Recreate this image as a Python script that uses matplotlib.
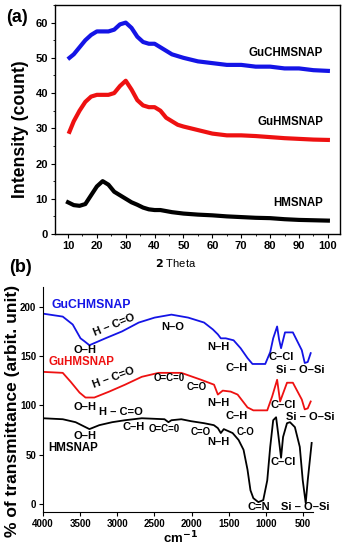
import matplotlib
matplotlib.use("Agg")
import matplotlib.pyplot as plt
from matplotlib.ticker import MultipleLocator

plt.rcParams['font.family'] = ['Liberation Sans', 'DejaVu Sans']

# ---------------- (a) XRD data ----------------
tt_black = [10, 12, 14, 16, 18, 20, 22, 24, 26, 28, 30, 32, 34, 36, 38, 40, 42, 44, 46, 48,
            50, 55, 60, 65, 70, 75, 80, 85, 90, 95, 100]
int_hmsnap = [9, 8.2, 8, 8.5, 11, 13.5, 15, 14, 12, 11, 10, 9, 8.3, 7.5, 7, 6.8, 6.8, 6.5, 6.2, 6,
              5.8, 5.5, 5.3, 5, 4.8, 4.6, 4.5, 4.2, 4, 3.9, 3.8]
tt_red = [10.5, 12, 14, 16, 18, 20, 22, 24, 26, 28, 30, 32, 34, 36, 38, 40, 42, 44, 46, 48,
          50, 55, 60, 65, 70, 75, 80, 85, 90, 95, 100]
int_guhmsnap = [29, 32, 35, 37.5, 39, 39.5, 39.5, 39.5, 40, 42, 43.5, 41, 38, 36.5, 36, 36, 35, 33, 32, 31,
                30.5, 29.5, 28.5, 28, 28, 27.8, 27.5, 27.2, 27, 26.8, 26.7]
tt_blue = [10.5, 12, 14, 16, 18, 20, 22, 24, 26, 28, 30, 32, 34, 36, 38, 40, 42, 44, 46, 48,
           50, 55, 60, 65, 70, 75, 80, 85, 90, 95, 100]
int_guchmsnap = [50, 51, 53, 55, 56.5, 57.5, 57.5, 57.5, 58, 59.5, 60, 58.5, 56, 54.5, 54, 54, 53, 52, 51, 50.5,
                 50, 49, 48.5, 48, 48, 47.5, 47.5, 47, 47, 46.5, 46.3]
xrd_xticks = [10, 20, 30, 40, 50, 60, 70, 80, 90, 100]
xrd_yticks = [0, 10, 20, 30, 40, 50, 60]

# ---------------- (b) FTIR data ----------------
wn_blue = [4000, 3734, 3600, 3495, 3442, 3375, 3160, 2936, 2710, 2497, 2271, 2046, 1832, 1713, 1646,
           1606, 1540, 1434, 1340, 1247, 1180, 1008, 941, 901, 848, 822, 795, 742, 636, 516, 476, 436, 396]
tr_guchmsnap = [193, 190, 182, 168, 165, 161, 168, 175, 184, 189, 192, 189, 184, 177, 172,
                168, 168, 166, 158, 148, 142, 142, 154, 168, 180, 167, 158, 174, 174, 156, 143, 144, 153]
wn_red = [4000, 3734, 3628, 3508, 3428, 3309, 3109, 2896, 2670, 2444, 2138, 1872, 1697, 1646, 1580,
          1473, 1380, 1247, 1168, 981, 915, 848, 808, 715, 636, 516, 476, 436, 396]
tr_guhmsnap = [134, 133, 124, 113, 108, 108, 114, 121, 129, 133, 133, 126, 121, 111, 115,
               114, 111, 98, 95, 95, 109, 126, 104, 123, 123, 106, 96, 97, 104]
wn_black = [4000, 3734, 3561, 3375, 3242, 3069, 2896, 2670, 2364, 2311, 2271, 2138, 2005, 1832, 1700,
            1646, 1606, 1566, 1447, 1367, 1300, 1247, 1207, 1168, 1101, 1035, 981, 941, 901, 862,
            835, 795, 768, 715, 675, 609, 543, 503, 463, 436, 383]
tr_hmsnap = [87, 86, 83, 76, 80, 83, 85, 87, 86, 83, 85, 86, 84, 82, 80,
             77, 72, 76, 72, 65, 55, 35, 14, 6, 2, 4, 24, 58, 85, 88,
             72, 47, 68, 82, 83, 78, 58, 24, 1, 24, 62]
ftir_xticks = [4000, 3500, 3000, 2500, 2000, 1500, 1000, 500]
ftir_yticks = [0, 50, 100, 150, 200]

BLUE = '#1414e6'
RED = '#ee1111'

W, H = 344, 550
fig = plt.figure(figsize=(W / 100, H / 100), dpi=100)


def ftxt(x, y, s, **kw):
    kw.setdefault('ha', 'center')
    kw.setdefault('va', 'center')
    fig.text(x / W, 1 - y / H, s, **kw)


# ---------------- panel (a) ----------------
axa = fig.add_axes([55 / W, 1 - 234 / H, 285 / W, 229 / H])
axa.plot(tt_blue, int_guchmsnap, color=BLUE, lw=3.0, solid_joinstyle='round')
axa.plot(tt_red, int_guhmsnap, color=RED, lw=3.0, solid_joinstyle='round')
axa.plot(tt_black, int_hmsnap, color='black', lw=3.0, solid_joinstyle='round')
axa.set_xlim(5.5, 104.2)
axa.set_ylim(0, 65)
axa.set_xticks(xrd_xticks)
axa.set_yticks(xrd_yticks)
axa.xaxis.set_minor_locator(MultipleLocator(5))
axa.yaxis.set_minor_locator(MultipleLocator(5))
axa.tick_params(which='major', direction='out', length=3, width=0.8, labelsize=8, pad=2)
axa.tick_params(which='minor', direction='out', length=1.5, width=0.6)
for lab in axa.get_xticklabels() + axa.get_yticklabels():
    lab.set_fontweight('bold')
for sp in axa.spines.values():
    sp.set_linewidth(1.0)

ftxt(323, 53, 'GuCHMSNAP', ha='right', fontsize=8.3, fontweight='bold')
ftxt(323, 122, 'GuHMSNAP', ha='right', fontsize=8.3, fontweight='bold')
ftxt(323, 203, 'HMSNAP', ha='right', fontsize=8.3, fontweight='bold')
ftxt(21, 129, 'Intensity (count)', rotation=90, fontsize=12.7, fontweight='bold')
ftxt(17, 18, '(a)', fontsize=13, fontweight='bold')
ftxt(176, 263, r'$\mathbf{2}$ Theta', fontsize=8)
ftxt(21, 267, '(b)', fontsize=13, fontweight='bold')

# ---------------- panel (b) ----------------
axb = fig.add_axes([43 / W, 1 - 512 / H, 270 / W, 225 / H])
axb.plot(wn_blue, tr_guchmsnap, color=BLUE, lw=1.3)
axb.plot(wn_red, tr_guhmsnap, color=RED, lw=1.3)
axb.plot(wn_black, tr_hmsnap, color='black', lw=1.3)
axb.set_xlim(4000, 365)
axb.set_ylim(-8, 220)
axb.set_xticks(ftir_xticks)
axb.set_yticks(ftir_yticks)
axb.spines['top'].set_visible(False)
axb.spines['right'].set_visible(False)
axb.tick_params(direction='out', length=3, width=0.8, labelsize=7, pad=2)
for lab in axb.get_xticklabels() + axb.get_yticklabels():
    lab.set_fontweight('bold')

ftxt(13, 411, '% of transmittance (arbit. unit)', rotation=90, fontsize=12.5, fontweight='bold')
ftxt(180, 538, r'cm$^{\mathbf{-1}}$', fontsize=9.5, fontweight='bold')

fs = 8
sm = 7
# blue labels
ftxt(91, 305, 'GuCHMSNAP', color=BLUE, fontsize=8.8, fontweight='bold')
ftxt(114, 325, 'H – C=O', fontsize=fs, fontweight='bold', rotation=22)
ftxt(173, 327, 'N–O', fontsize=fs, fontweight='bold')
ftxt(85, 350, 'O–H', fontsize=fs, fontweight='bold')
ftxt(218, 347, 'N–H', fontsize=fs, fontweight='bold')
ftxt(237, 368, 'C–H', fontsize=fs, fontweight='bold')
ftxt(281, 357, 'C–Cl', fontsize=fs, fontweight='bold')
ftxt(300, 370, 'Si – O–Si', fontsize=fs, fontweight='bold')
# red labels
ftxt(81, 362, 'GuHMSNAP', color=RED, fontsize=8.3, fontweight='bold')
ftxt(114, 378, 'H – C=O', fontsize=fs, fontweight='bold', rotation=20)
ftxt(169, 378, 'O=C=0', fontsize=sm, fontweight='bold')
ftxt(197, 387, 'C=O', fontsize=sm, fontweight='bold')
ftxt(218, 403, 'N–H', fontsize=fs, fontweight='bold')
ftxt(85, 407, 'O–H', fontsize=fs, fontweight='bold')
ftxt(237, 416, 'C–H', fontsize=fs, fontweight='bold')
ftxt(283, 405, 'C–Cl', fontsize=fs, fontweight='bold')
ftxt(310, 417, 'Si – O–Si', fontsize=fs, fontweight='bold')
# black labels
ftxt(121, 412, 'H – C=O', fontsize=fs, fontweight='bold')
ftxt(85, 436, 'O–H', fontsize=fs, fontweight='bold')
ftxt(134, 427, 'C–H', fontsize=fs, fontweight='bold')
ftxt(164, 429, 'O=C=0', fontsize=sm, fontweight='bold')
ftxt(201, 432, 'C=O', fontsize=sm, fontweight='bold')
ftxt(218, 442, 'N–H', fontsize=fs, fontweight='bold')
ftxt(245, 432, 'C-O', fontsize=sm, fontweight='bold')
ftxt(73, 448, 'HMSNAP', fontsize=8.3, fontweight='bold')
ftxt(283, 462, 'C–Cl', fontsize=fs, fontweight='bold')
ftxt(259, 507, 'C=N', fontsize=fs, fontweight='bold')
ftxt(305, 507, 'Si – O–Si', fontsize=fs, fontweight='bold')

fig.savefig('out.png', dpi=100)
